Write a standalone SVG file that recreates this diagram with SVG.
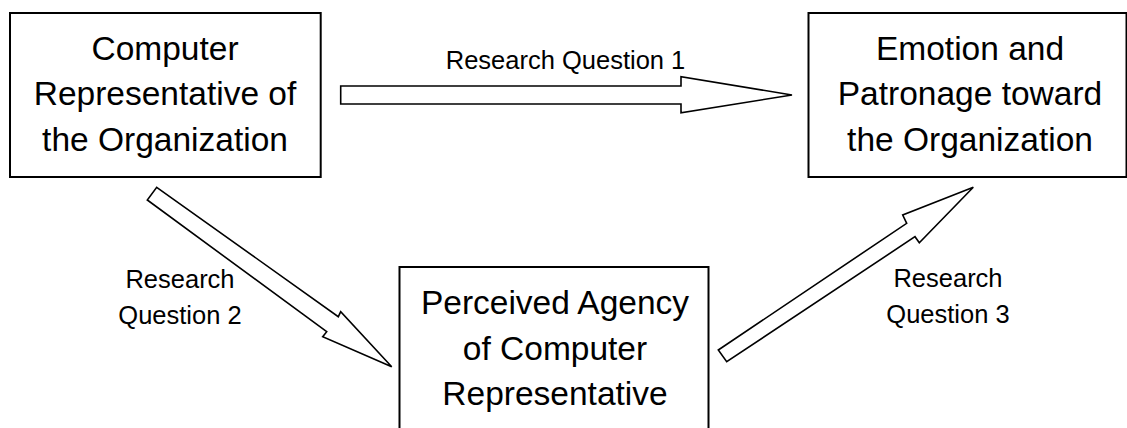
<svg xmlns="http://www.w3.org/2000/svg" width="1127" height="428" viewBox="0 0 1127 428">
<style>
.box{fill:#fff;stroke:#000;stroke-width:2}
.arrow{fill:#fff;stroke:#000;stroke-width:1.6;stroke-linejoin:miter}
.big{font-family:"Liberation Sans",Arial,sans-serif;font-size:33.5px;fill:#000;text-anchor:middle}
.lbl{font-family:"Liberation Sans",Arial,sans-serif;font-size:25.5px;fill:#000;text-anchor:middle}
</style>
<rect width="1127" height="428" fill="#fff"/>
<g id="connectors">
<polygon class="arrow" points="340.7,86 681,86 681,76.7 792,95 681,112.7 681,104 340.7,104"/>
<polygon class="arrow" points="156.7,187.3 338.3,316.7 340.7,311.7 391.7,366.7 322.7,336.7 326.7,331.7 147.3,200"/>
<polygon class="arrow" points="718.3,350 906.7,223.3 902.7,215 973.3,187.3 919.3,242.7 915,236.7 726.7,361.7"/>
<text class="lbl" x="565.5" y="68.5">Research Question 1</text>
<text class="lbl" x="180" y="287.5">Research</text>
<text class="lbl" x="180" y="323.5">Question 2</text>
<text class="lbl" x="948" y="286.5">Research</text>
<text class="lbl" x="948" y="322.5">Question 3</text>
</g>
<g id="node-computer-rep">
<rect class="box" x="10" y="13" width="310.7" height="164"/>
<text class="big" x="165" y="59.5">Computer</text>
<text class="big" x="165" y="105">Representative of</text>
<text class="big" x="165" y="150.5">the Organization</text>
</g>
<g id="node-emotion">
<rect class="box" x="808.5" y="13" width="318" height="164"/>
<text class="big" x="970" y="59.5">Emotion and</text>
<text class="big" x="970" y="105">Patronage toward</text>
<text class="big" x="970" y="150.5">the Organization</text>
</g>
<g id="node-agency">
<rect class="box" x="399.5" y="267" width="309" height="175"/>
<text class="big" x="555" y="314">Perceived Agency</text>
<text class="big" x="555" y="359.5">of Computer</text>
<text class="big" x="555" y="405">Representative</text>
</g>
</svg>
